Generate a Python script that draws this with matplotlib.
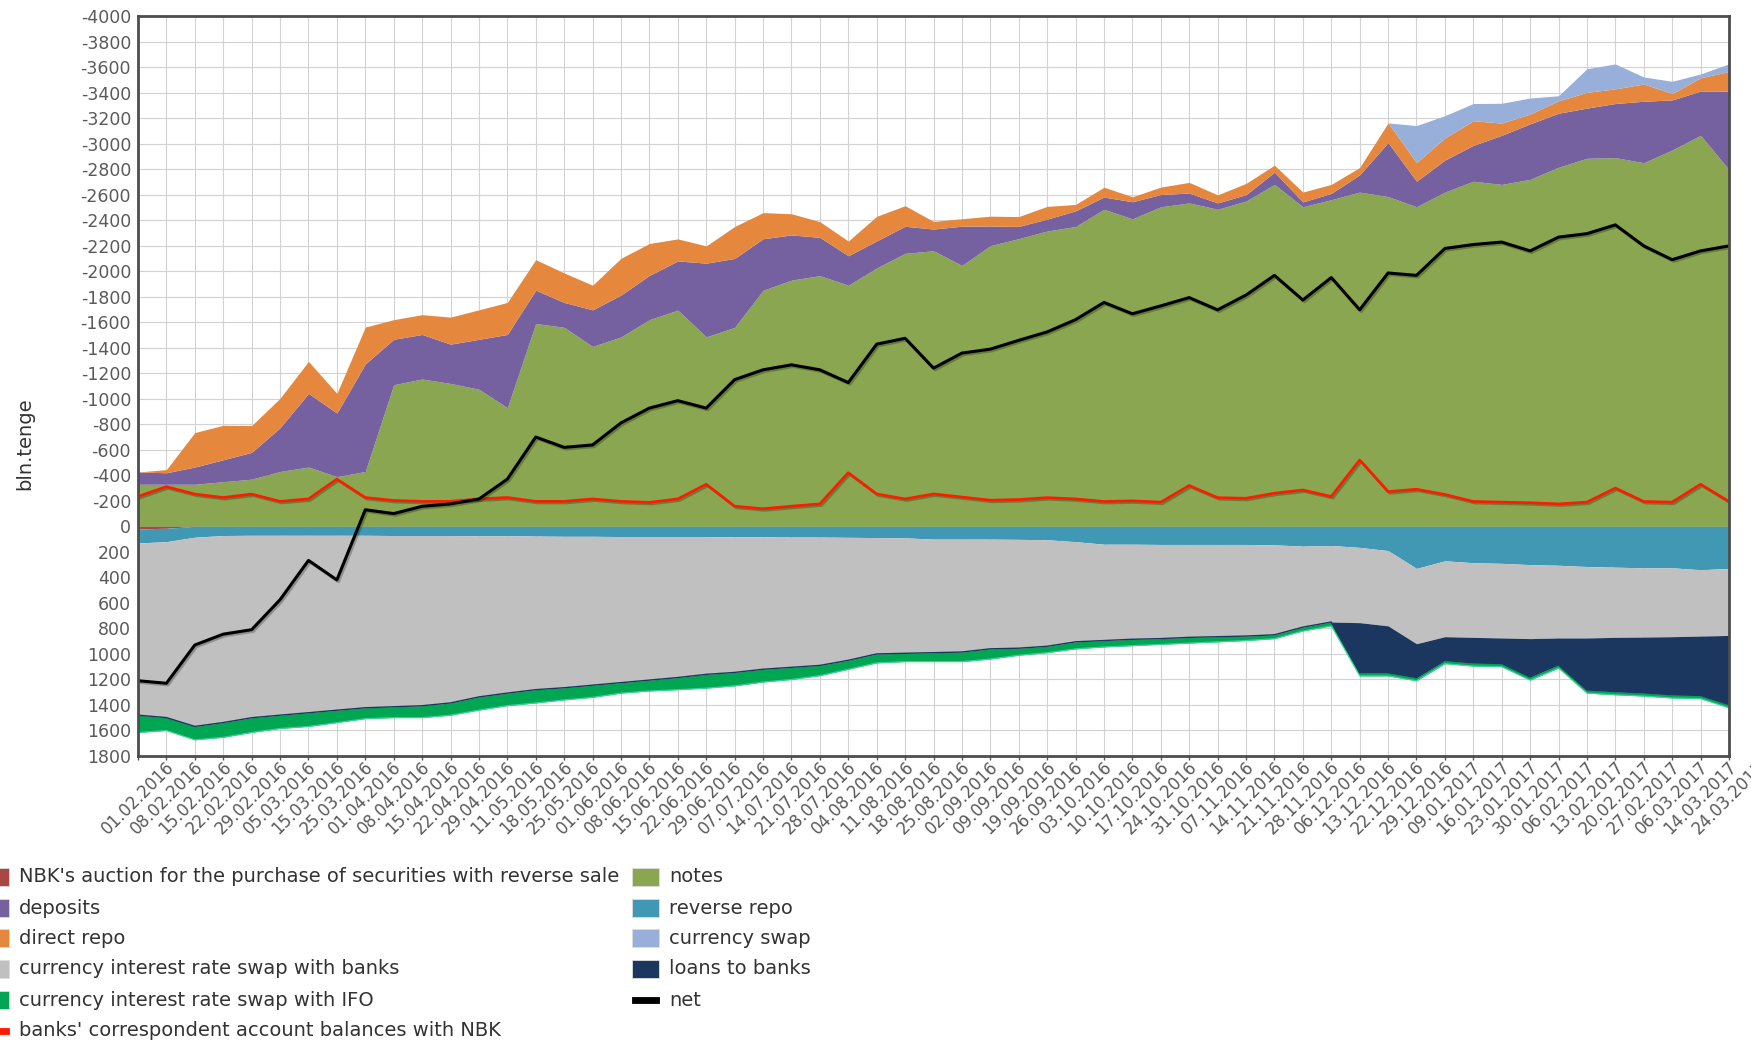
import matplotlib
matplotlib.use("Agg")
import matplotlib.pyplot as plt
import matplotlib.patheffects as pe
from matplotlib.patches import Rectangle
import numpy as np

plt.rcParams['axes.unicode_minus'] = False

dates = ['01.02.2016','08.02.2016','15.02.2016','22.02.2016','29.02.2016','05.03.2016','15.03.2016',
         '25.03.2016','01.04.2016','08.04.2016','15.04.2016','22.04.2016','29.04.2016','11.05.2016',
         '18.05.2016','25.05.2016','01.06.2016','08.06.2016','15.06.2016','22.06.2016','29.06.2016',
         '07.07.2016','14.07.2016','21.07.2016','28.07.2016','04.08.2016','11.08.2016','18.08.2016',
         '25.08.2016','02.09.2016','09.09.2016','19.09.2016','26.09.2016','03.10.2016','10.10.2016',
         '17.10.2016','24.10.2016','31.10.2016','07.11.2016','14.11.2016','21.11.2016','28.11.2016',
         '06.12.2016','13.12.2016','22.12.2016','29.12.2016','09.01.2017','16.01.2017','23.01.2017',
         '30.01.2017','06.02.2017','13.02.2017','20.02.2017','27.02.2017','06.03.2017','14.03.2017',
         '24.03.2017']

# liquidity absorption (negative, drawn upward on inverted axis)
notes = [-330,-330,-330,-350,-370,-430,-465,-390,-430,-1110,
         -1155,-1120,-1075,-930,-1590,-1560,-1410,-1485,-1620,-1695,
         -1485,-1560,-1850,-1930,-1965,-1890,-2025,-2140,-2160,-2045,
         -2200,-2255,-2315,-2350,-2485,-2410,-2505,-2535,-2485,-2550,
         -2680,-2505,-2560,-2620,-2585,-2505,-2620,-2705,-2680,-2720,
         -2815,-2885,-2890,-2850,-2950,-3065,-2795]
deposits = [-96,-90,-135,-172,-210,-343,-577,-498,-843,-356,
            -349,-308,-391,-574,-261,-195,-287,-328,-347,-385,
            -578,-540,-404,-354,-300,-231,-212,-212,-170,-308,
            -154,-96,-93,-123,-96,-134,-96,-77,-50,-50,
            -96,-38,-50,-135,-423,-200,-251,-281,-385,-435,
            -423,-393,-424,-482,-392,-347,-616]
direct_repo = [0,-25,-270,-270,-210,-231,-251,-154,-289,-154,
               -155,-212,-231,-251,-239,-231,-193,-288,-250,-173,
               -135,-250,-205,-166,-123,-115,-193,-161,-60,-58,
               -77,-77,-100,-50,-77,-39,-58,-84,-63,-88,
               -55,-77,-70,-58,-154,-146,-173,-193,-96,-77,
               -97,-124,-115,-135,-51,-104,-154]
currency_swap = [0]*45 + [-290,-175,-135,-155,-125,-40,-185,-195,-55,-95,-30,-60]

# liquidity provision (positive, drawn downward)
auction = [20, 15] + [0]*55
reverse_repo = [110,105,85,72,70,70,70,70,70,72,
                72,72,74,74,76,78,78,80,80,80,
                80,82,82,84,84,86,88,90,100,100,
                100,102,105,120,140,140,142,142,142,142,
                145,155,150,165,190,330,270,285,290,300,
                305,315,320,325,325,340,330]
cirs_banks = [1350,1379,1483,1466,1430,1410,1391,1371,1352,1342,
              1334,1312,1263,1233,1204,1187,1167,1145,1125,1105,
              1080,1063,1038,1021,1006,964,912,905,890,885,
              860,853,835,785,755,745,738,728,723,718,
              705,635,600,590,590,590,595,585,585,580,
              570,560,550,543,540,520,525]
loans = [0]*43 + [392,367,265,186,200,200,300,210,407,425,437,455,465,542]
cirs_ifo = [135,101,105,115,115,104,107,97,85,85,
            93,96,103,98,104,95,95,82,85,95,
            108,105,100,95,80,70,70,65,70,75,
            80,55,50,55,50,50,45,45,40,35,
            30,30,30,25,25,25,25,25,25,25,
            25,25,25,25,25,25,25]

banks_corr = [-234,-311,-253,-226,-253,-196,-215,-370,-226,-203,
              -196,-196,-215,-226,-196,-196,-215,-196,-188,-215,
              -330,-158,-138,-158,-176,-420,-254,-215,-254,-230,
              -205,-210,-225,-215,-195,-200,-190,-320,-225,-220,
              -260,-285,-234,-520,-272,-291,-250,-195,-190,-185,
              -176,-190,-300,-195,-190,-330,-195]
net = [1210,1230,930,845,810,575,267,420,-130,-100,
       -157,-176,-214,-370,-700,-619,-638,-811,-927,-985,
       -927,-1150,-1227,-1266,-1227,-1127,-1428,-1474,-1240,-1358,
       -1389,-1458,-1524,-1620,-1755,-1666,-1728,-1793,-1697,-1813,
       -1967,-1774,-1950,-1697,-1986,-1967,-2178,-2209,-2228,-2159,
       -2267,-2294,-2363,-2198,-2090,-2159,-2198]

y_ticks = list(range(-4000, 1801, 200))

C_AUCTION = '#AA4643'
C_DEPOSITS = '#7560A0'
C_REPO = '#E5883E'
C_CIRS_B = '#C0C0C0'
C_CIRS_IFO = '#00A651'
C_CORR = '#FF1A00'
C_NOTES = '#8AA650'
C_REV = '#4198B4'
C_SWAP = '#97AFD9'
C_LOANS = '#1B365F'
C_NET = '#000000'

W, H = 1751, 1042
fig = plt.figure(figsize=(W/100, H/100), dpi=100)
L, R, T, B = 138, 1729, 16, 756
ax = fig.add_axes([L/W, 1-B/H, (R-L)/W, (B-T)/H])

x = np.arange(len(dates))

base = np.zeros(len(x))
for vals, col in [(notes, C_NOTES), (deposits, C_DEPOSITS), (direct_repo, C_REPO), (currency_swap, C_SWAP)]:
    top = base + np.array(vals, float)
    ax.fill_between(x, base, top, color=col, lw=0, zorder=2)
    base = top

base = np.zeros(len(x))
edges = {}
for name, vals, col in [('auction', auction, C_AUCTION), ('rev', reverse_repo, C_REV),
                        ('cirsb', cirs_banks, C_CIRS_B), ('loans', loans, C_LOANS),
                        ('ifo', cirs_ifo, C_CIRS_IFO)]:
    top = base + np.array(vals, float)
    ax.fill_between(x, base, top, color=col, lw=0, zorder=2)
    edges[name] = top
    base = top
ax.plot(x, edges['loans'], color=C_LOANS, lw=1.0, zorder=3)
ax.plot(x, edges['ifo'], color='#3CD39A', lw=0.8, zorder=3)

shadow = [pe.SimpleLineShadow(offset=(1.2, -1.2), alpha=0.25, shadow_color='black'), pe.Normal()]
ax.plot(x, banks_corr, color=C_CORR, lw=1.9, zorder=4, path_effects=shadow, solid_joinstyle='round')
ax.plot(x, net, color=C_NET, lw=2.2, zorder=5, path_effects=shadow, solid_joinstyle='round')

ax.set_xlim(0, len(x)-1)
ax.set_ylim(1800, -4000)
ax.set_yticks(y_ticks)
ax.set_yticklabels([str(v) for v in y_ticks])
ax.set_xticks(x)
ax.set_xticklabels(dates, rotation=45, ha='center', va='center', rotation_mode='anchor')

ax.grid(True, color='#D2D2D2', lw=0.8, zorder=0)
ax.set_axisbelow(True)
for s in ax.spines.values():
    s.set_color('#4D4D4D')
    s.set_linewidth(2.0)
    s.set_zorder(6)

ax.tick_params(axis='y', length=0, pad=5, labelsize=12.5, labelcolor='#5A5A5A')
ax.tick_params(axis='x', length=3, width=1, color='#555555', direction='out', pad=27,
               labelsize=12, labelcolor='#5A5A5A')

fig.text(25/W, 1-444/H, 'bln.tenge', rotation=90, va='center', ha='center',
         fontsize=14, color='#333333')

# legend
rows = [877, 908, 938, 969, 1000, 1031]
col1 = [("NBK's auction for the purchase of securities with reverse sale", C_AUCTION, 'box'),
        ('deposits', C_DEPOSITS, 'box'),
        ('direct repo', C_REPO, 'box'),
        ('currency interest rate swap with banks', C_CIRS_B, 'box'),
        ('currency interest rate swap with IFO', C_CIRS_IFO, 'box'),
        ("banks' correspondent account balances with NBK", C_CORR, 'line')]
col2 = [('notes', C_NOTES, 'box'),
        ('reverse repo', C_REV, 'box'),
        ('currency swap', C_SWAP, 'box'),
        ('loans to banks', C_LOANS, 'box'),
        ('net', C_NET, 'line')]

def add_entry(hx0, tx, yc, label, col, kind):
    hw = 27
    hh = 18 if kind == 'box' else 6
    fig.add_artist(Rectangle((hx0/W, 1-(yc+hh/2)/H), hw/W, hh/H, transform=fig.transFigure,
                             facecolor=col, edgecolor='#DDDDDD' if kind == 'box' else col,
                             lw=0.6, clip_on=False))
    fig.text(tx/W, 1-yc/H, label, va='center', ha='left', fontsize=14,
             family='DejaVu Sans', color='#333333')

for (lab, col, kind), yc in zip(col1, rows):
    add_entry(-18, 19, yc, lab, col, kind)
for (lab, col, kind), yc in zip(col2, rows):
    add_entry(632, 669, yc, lab, col, kind)

fig.savefig('out.png', dpi=100, facecolor='white')
